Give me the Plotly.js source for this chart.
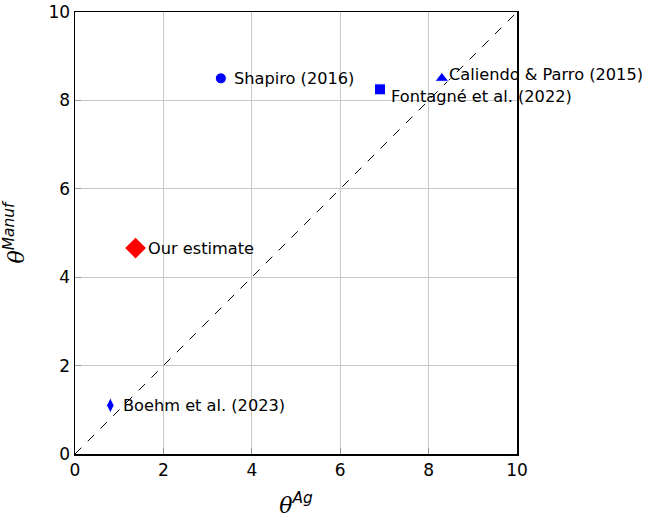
<!DOCTYPE html>
<html>
<head>
<meta charset="utf-8">
<script src="https://cdn.plot.ly/plotly-3.0.1.min.js"></script>
<style>html,body{margin:0;padding:0;background:#fff;}#chart{width:655px;height:519px;}</style>
</head>
<body>
<div id="chart"></div>
<script>
// Trade elasticity estimates: agriculture vs manufacturing
const studies = ["Shapiro (2016)", "Fontagné et al. (2022)", "Caliendo & Parro (2015)", "Boehm et al. (2023)"];
const thetaAg = [3.3, 6.9, 8.3, 0.8];
const thetaManuf = [8.5, 8.25, 8.5, 1.1];
const studySymbols = ["circle", "square", "triangle-up", "diamond-tall"];

const ownLabel = ["Our estimate"];
const ownAg = [1.37];
const ownManuf = [4.66];

const diagX = [0, 10];
const diagY = [0, 10];
const tickVals = [0, 2, 4, 6, 8, 10];

const font = {family: "DejaVu Sans, sans-serif", size: 16.2, color: "#000"};

const traces = [
  {
    x: diagX, y: diagY, mode: "lines", type: "scatter",
    line: {color: "#000", width: 1, dash: "dash"}, hoverinfo: "skip"
  },
  {
    x: thetaAg, y: thetaManuf, mode: "markers", type: "scatter", cliponaxis: false,
    marker: {color: "#0000ff", symbol: studySymbols, size: [11, 11, 12, 11], opacity: 1}
  },
  {
    x: ownAg, y: ownManuf, mode: "markers", type: "scatter", cliponaxis: false,
    marker: {color: "#ff0000", symbol: "diamond", size: 16, opacity: 1}
  }
];

// label offsets (px) next to each marker
const labelShiftX = [11, 9, 5, 11];
const labelShiftY = [0, -7, 4, 0];

const annotations = studies.map((s, i) => ({
  x: thetaAg[i], y: thetaManuf[i], text: s, showarrow: false,
  xanchor: "left", yanchor: "middle", xshift: labelShiftX[i], yshift: labelShiftY[i], font: font
})).concat(ownLabel.map((s, i) => ({
  x: ownAg[i], y: ownManuf[i], text: s, showarrow: false,
  xanchor: "left", yanchor: "middle", xshift: 10, yshift: 0, font: font
})));

const axisBase = {
  range: [0, 10], tickvals: tickVals, showgrid: true, gridcolor: "#c8c8c8", gridwidth: 1,
  zeroline: false, showline: true, linecolor: "#000", linewidth: 1.5, mirror: true,
  ticks: "inside", ticklen: 6, tickcolor: "#999", tickwidth: 1,
  tickfont: {family: "DejaVu Sans, sans-serif", size: 17, color: "#000"}
};

const titleFont = {family: "DejaVu Serif, serif", size: 22, color: "#000"};
const supStyle = 'style="font-family:DejaVu Sans, sans-serif"';

const layout = {
  width: 655, height: 519,
  margin: {l: 75, r: 138, t: 12, b: 65},
  paper_bgcolor: "#fff", plot_bgcolor: "#fff",
  showlegend: false,
  annotations: annotations,
  xaxis: Object.assign({}, axisBase, {
    title: {text: "<i>θ<sup><span " + supStyle + ">Ag</span></sup></i>", font: titleFont, standoff: 18}
  }),
  yaxis: Object.assign({}, axisBase, {
    title: {text: "<i>θ<sup><span " + supStyle + ">Manuf</span></sup></i>", font: titleFont, standoff: 18}
  })
};

Plotly.newPlot("chart", traces, layout, {displayModeBar: false, staticPlot: true});
</script>
</body>
</html>
